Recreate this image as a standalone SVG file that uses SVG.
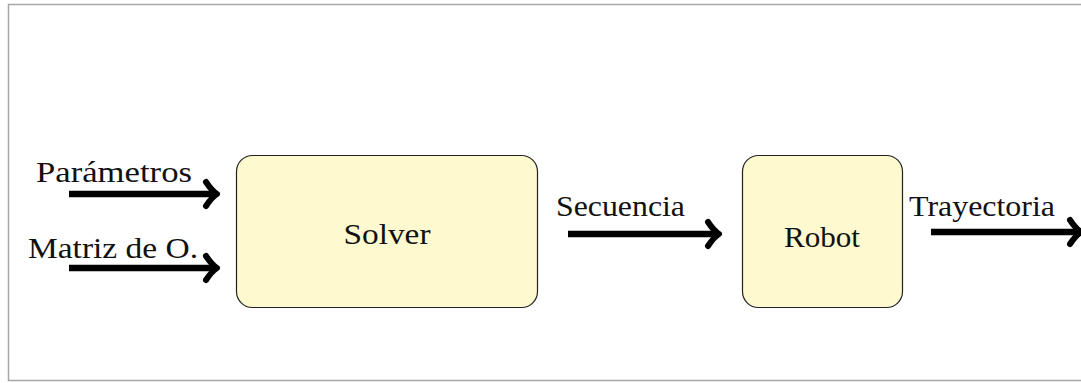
<svg xmlns="http://www.w3.org/2000/svg" width="1081" height="383" viewBox="0 0 1081 383">
  <style>
    .frame { fill: #ffffff; stroke: #a6a6a6; stroke-width: 1.5; }
    .block { fill: #fff9cf; stroke: #222222; stroke-width: 1.2; }
    .label { font-family: "Liberation Serif", "Times New Roman", serif; font-size: 30px; fill: #111111; }
    .shaft { stroke: #000000; stroke-width: 6.5; fill: none; }
    .head { stroke: #000000; stroke-width: 6; fill: none; stroke-linecap: round; stroke-linejoin: round; }
  </style>
  <defs>
    <!-- curved chevron tip, drawn with its point at the origin -->
    <path id="tip" class="head" d="M -11 -12 Q -5 -3 0 0 Q -5 3 -11 12"/>
  </defs>

  <rect class="frame" x="8.5" y="4.5" width="1080" height="376"/>

  <g id="solver">
    <rect class="block" x="236.5" y="155.5" width="301" height="152" rx="16" ry="16"/>
    <text class="label" x="387" y="244" text-anchor="middle" textLength="87" lengthAdjust="spacingAndGlyphs">Solver</text>
  </g>

  <g id="robot">
    <rect class="block" x="742.5" y="155.5" width="160" height="152" rx="16" ry="16"/>
    <text class="label" x="822" y="247" text-anchor="middle" textLength="76" lengthAdjust="spacingAndGlyphs">Robot</text>
  </g>

  <g id="connectors">
    <g id="parametros">
      <line class="shaft" x1="69" y1="194" x2="214" y2="194"/>
      <use href="#tip" x="217" y="194"/>
      <text class="label" x="36" y="182" textLength="156" lengthAdjust="spacingAndGlyphs">Parámetros</text>
    </g>
    <g id="matriz">
      <line class="shaft" x1="69" y1="268" x2="214" y2="268"/>
      <use href="#tip" x="217" y="268"/>
      <text class="label" x="28" y="258" textLength="170" lengthAdjust="spacingAndGlyphs">Matriz de O.</text>
    </g>
    <g id="secuencia">
      <line class="shaft" x1="568" y1="234" x2="716" y2="234"/>
      <use href="#tip" x="719" y="234"/>
      <text class="label" x="556" y="216" textLength="129" lengthAdjust="spacingAndGlyphs">Secuencia</text>
    </g>
    <g id="trayectoria">
      <line class="shaft" x1="931" y1="232" x2="1078" y2="232"/>
      <use href="#tip" x="1081" y="232"/>
      <text class="label" x="909" y="216" textLength="146" lengthAdjust="spacingAndGlyphs">Trayectoria</text>
    </g>
  </g>
</svg>
